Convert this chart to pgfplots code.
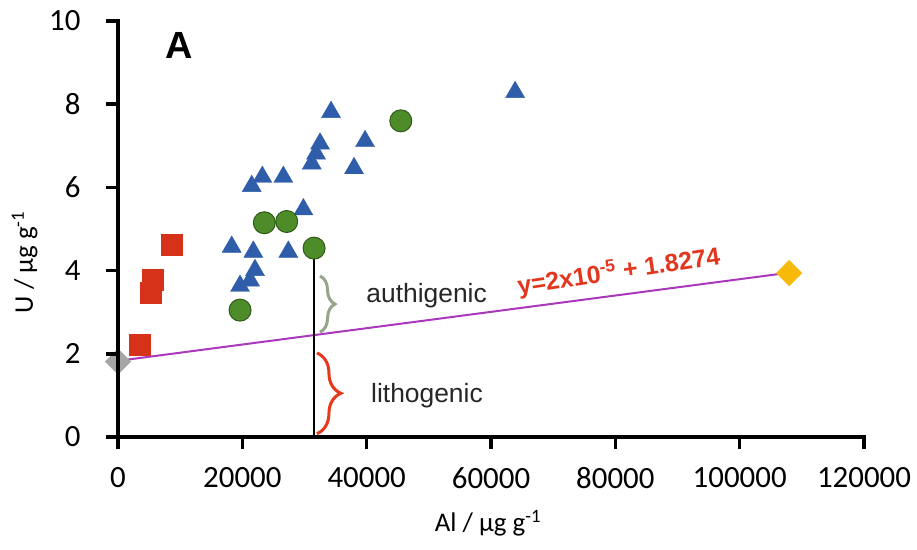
\documentclass[border=0pt]{standalone}
\usepackage{pgfplots}
\pgfplotsset{compat=1.18}
\usepackage{fontspec}
\setmainfont{Carlito}
\newfontfamily\arialfont{Liberation Sans}
\usetikzlibrary{decorations.pathreplacing}
\definecolor{sqred}{HTML}{D6321A}
\definecolor{triblue}{HTML}{2F5DAA}
\definecolor{cirgreen}{HTML}{4E8C2A}
\definecolor{cirborder}{HTML}{2E5A1A}
\definecolor{dgray}{HTML}{A6A6A6}
\definecolor{dgold}{HTML}{F7BA0B}
\definecolor{lmag}{HTML}{AA38BC}
\definecolor{eqred}{HTML}{E2361F}
\definecolor{authbrace}{HTML}{97A48A}
\definecolor{lithbrace}{HTML}{E8381C}
\begin{document}
\begin{tikzpicture}
\begin{axis}[
  name=ax,
  scale only axis, width=746bp, height=416bp,
  xmin=0, xmax=120000, ymin=0, ymax=10,
  clip=false,
  axis x line*=bottom, axis y line*=left,
  every outer x axis line/.style={line width=3.5bp, black, -},
  every outer y axis line/.style={line width=3.5bp, black, -},
  scaled x ticks=false, scaled y ticks=false,
  xtick={0,20000,40000,60000,80000,100000,120000},
  xticklabels={0,20000,40000,60000,80000,100000,120000},
  ytick={0,2,4,6,8,10},
  yticklabels={0,2,4,6,8,10},
  every tick/.style={black, line width=3bp},
  major tick length=11bp,
  tick align=outside,
  ticklabel style={font=\fontsize{31}{31}\selectfont},
  xticklabel style={yshift=-16bp},
  yticklabel style={xshift=-23bp},
  xlabel={Al / µg g\textsuperscript{-1}},
  ylabel={U / µg g\textsuperscript{-1}},
  label style={font=\fontsize{27}{27}\selectfont},
  xlabel style={at={(axis description cs:0.496,-0.207)}, anchor=center},
  ylabel style={at={(axis description cs:-0.125,0.42)}, anchor=center},
]
% regression line
\addplot[lmag, line width=2bp] coordinates {(0,1.83) (107960,3.95)};
% vertical black line
\addplot[black, line width=1.2bp] coordinates {(31540,0) (31540,4.54)};
% squares
\addplot[only marks, mark=square*, mark size=10.5bp, sqred, mark options={draw=sqred, fill=sqred}] coordinates {
(8640,4.62) (5520,3.79) (5260,3.47) (3540,2.23)
};
% triangles
\addplot[only marks, mark=triangle*, mark size=11bp, triblue, mark options={draw=triblue, fill=triblue}] coordinates {
(34270,7.81) (39740,7.11) (32500,7.05) (31860,6.81) (31170,6.57) (37970,6.46)
(23220,6.25) (21510,6.03) (26600,6.25) (29820,5.47) (18290,4.57) (21770,4.45)
(27400,4.45) (22040,4.01) (21240,3.76) (19630,3.63) (63880,8.29)
};
% circles
\addplot[only marks, mark=*, mark size=11bp, mark options={draw=cirborder, fill=cirgreen, line width=1bp}] coordinates {
(45490,7.60) (23540,5.15) (27140,5.18) (31540,4.54) (19630,3.05)
};
% diamonds
\addplot[only marks, mark=square*, mark size=9bp, mark options={rotate=45, draw=dgray, fill=dgray}] coordinates {(0,1.81)};
\addplot[only marks, mark=square*, mark size=9bp, mark options={rotate=45, draw=dgold, fill=dgold}] coordinates {(107960,3.94)};
% braces
\draw[authbrace, line width=3bp, decorate, decoration={brace, amplitude=15bp}] (axis cs:32500,3.87) -- (axis cs:32500,2.52);
\draw[lithbrace, line width=3bp, decorate, decoration={brace, amplitude=24bp}] (axis cs:32000,2.02) -- (axis cs:32000,0.08);
% texts
\node[font=\arialfont\fontsize{26.5}{26.5}\selectfont, text=black!85, anchor=center] at (axis cs:49640,3.39) {authigenic};
\node[font=\arialfont\fontsize{26.5}{26.5}\selectfont, text=black!85, anchor=center] at (axis cs:49700,0.99) {lithogenic};
\node[font=\arialfont\bfseries\fontsize{25}{25}\selectfont, text=eqred, anchor=center, rotate=8.5] at (axis cs:80550,3.97) {y=2x10\textsuperscript{-5} + 1.8274};
\node[font=\arialfont\bfseries\fontsize{38}{38}\selectfont, anchor=center] at (axis cs:9800,9.4) {A};
\end{axis}
% axis lines and tick marks in plain TikZ, after the axis
\draw[black, line width=4bp, line cap=rect] (ax.north west) -- (ax.south west) -- (ax.south east);
\foreach \i in {0,1,2,3,4,5,6} {
  \draw[black, line width=3.5bp] ([xshift={\i*124.3333bp}]ax.south west) -- ++(0bp,-12bp);
}
\foreach \i in {0,1,2,3,4,5} {
  \draw[black, line width=3.5bp] ([yshift={\i*83.2bp}]ax.south west) -- ++(-12bp,0bp);
}
\pgfresetboundingbox
\useasboundingbox (-118bp,-113bp) rectangle (799bp,437bp);
\end{tikzpicture}
\end{document}
